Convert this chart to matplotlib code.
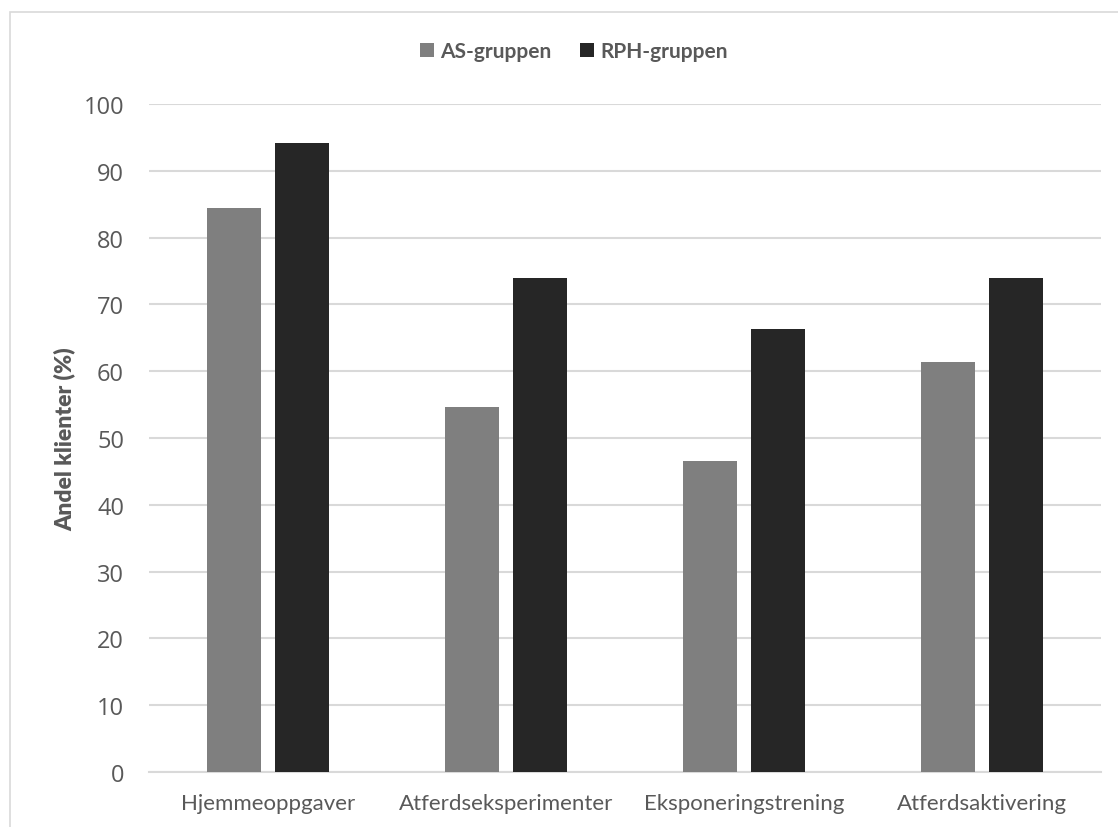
import matplotlib
matplotlib.use("Agg")
import matplotlib.pyplot as plt
import numpy as np
from matplotlib.patches import Rectangle

categories = ['Hjemmeoppgaver', 'Atferdseksperimenter', 'Eksponeringstrening', 'Atferdsaktivering']
as_gruppen = [84.4, 54.7, 46.6, 61.4]
rph_gruppen = [94.1, 74.0, 66.3, 74.0]
series_names = ['AS-gruppen', 'RPH-gruppen']
yticks = list(range(0, 101, 10))

GREY = '#7f7f7f'
DARK = '#262626'
TEXT = '#595959'
GRID = '#d9d9d9'
LABEL_FONT = ['Lato', 'DejaVu Sans']
TICK_FONT = ['Open Sans', 'DejaVu Sans']

fig = plt.figure(figsize=(11.18, 8.28), dpi=100)
ax = fig.add_axes([0.1333, 0.0664, 0.8515, 0.8068])

# outer chart frame
fig.patches.append(Rectangle((10 / 1118, -0.01), 1.02, 1 - 13 / 828 + 0.01,
                             transform=fig.transFigure, fill=False,
                             edgecolor='#d9d9d9', linewidth=1.2))

x = np.arange(len(categories))
w = 0.227
off = 0.1418
ax.bar(x - off, as_gruppen, w, color=GREY, label=series_names[0], zorder=3)
ax.bar(x + off, rph_gruppen, w, color=DARK, label=series_names[1], zorder=3)

ax.set_xlim(-0.5, len(categories) - 0.5)
ax.set_ylim(0, 100)
ax.set_yticks(yticks)
ax.yaxis.grid(True, color=GRID, linewidth=1.5, zorder=0)
ax.set_axisbelow(True)

for side in ['top', 'right', 'left']:
    ax.spines[side].set_visible(False)
ax.spines['bottom'].set_color(GRID)
ax.spines['bottom'].set_linewidth(1.5)

ax.tick_params(axis='both', length=0)
ax.tick_params(axis='y', labelsize=17, labelcolor=TEXT, pad=18)
ax.set_xticks(x)
ax.set_xticklabels(categories, fontsize=16, color=TEXT, family=LABEL_FONT)
ax.tick_params(axis='x', pad=15)
for lbl in ax.get_yticklabels():
    lbl.set_family(TICK_FONT)

ax.set_ylabel('Andel klienter (%)', fontsize=16.5, fontweight='heavy',
              color=TEXT, family=LABEL_FONT, labelpad=6)

leg = fig.legend(loc='center', bbox_to_anchor=(574 / 1118, 1 - 52 / 828), ncol=2,
                 frameon=False, handlelength=0.65, handleheight=0.65,
                 handletextpad=0.3, columnspacing=1.4,
                 prop={'family': LABEL_FONT, 'weight': 'bold', 'size': 15})
for t in leg.get_texts():
    t.set_color(TEXT)

fig.savefig('out.png', dpi=100, facecolor='white')
